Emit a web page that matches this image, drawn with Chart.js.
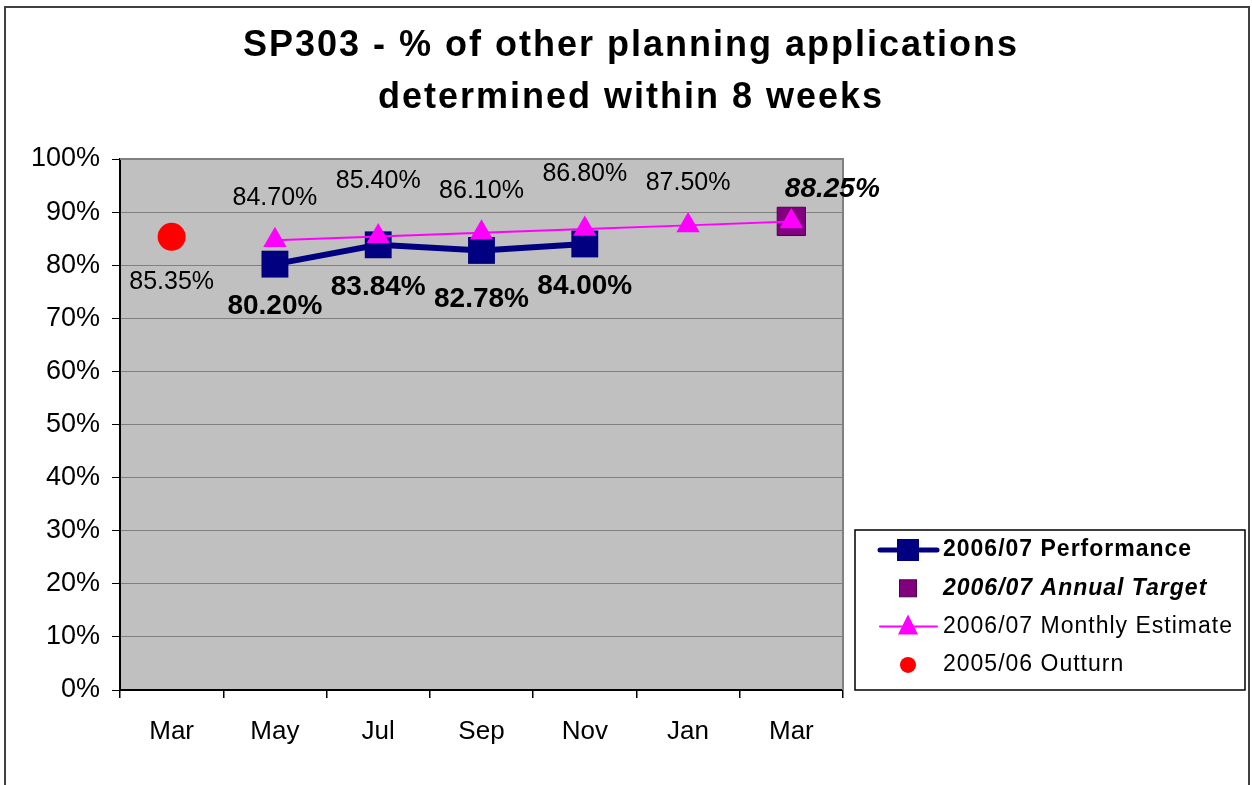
<!DOCTYPE html>
<html>
<head>
<meta charset="utf-8">
<script src="https://cdn.jsdelivr.net/npm/chart.js@4.4.1/dist/chart.umd.min.js"></script>
<style>
  html, body { margin: 0; padding: 0; background: #fff; }
  #wrap { width: 1252px; height: 785px; }
</style>
</head>
<body>
<div id="wrap"><canvas id="sp303Chart" width="1252" height="785"></canvas></div>
<script>
// Chart data
const months = ['Mar', 'May', 'Jul', 'Sep', 'Nov', 'Jan', 'Mar'];
const performance = [null, 80.20, 83.84, 82.78, 84.00, null, null];
const annualTarget = [null, null, null, null, null, null, 88.25];
const monthlyEstimate = [null, 84.70, 85.40, 86.10, 86.80, 87.50, 88.25];
const outturn = [85.35, null, null, null, null, null, null];
const yTicks = [0, 10, 20, 30, 40, 50, 60, 70, 80, 90, 100];

const FONT = '"Liberation Sans", Arial, sans-serif';

// Frame, plot background, title
const backdrop = {
    id: 'backdrop',
    beforeDraw(chart) {
        const { ctx, chartArea: a } = chart;
        ctx.save();
        ctx.fillStyle = '#fff';
        ctx.fillRect(0, 0, chart.width, chart.height);
        ctx.strokeStyle = '#404040';
        ctx.lineWidth = 2;
        ctx.strokeRect(5, 7, 1244, 800);
        ctx.fillStyle = '#c0c0c0';
        ctx.fillRect(a.left, a.top, a.right - a.left, a.bottom - a.top);
        ctx.fillStyle = '#000';
        ctx.font = 'bold 36px ' + FONT;
        ctx.letterSpacing = '2px';
        ctx.textAlign = 'center';
        ctx.textBaseline = 'middle';
        ctx.fillText('SP303 - % of other planning applications', 631, 46);
        ctx.fillText('determined within 8 weeks', 631, 98);
        ctx.restore();
    },
    beforeDatasetsDraw(chart) {
        const { ctx, chartArea: a } = chart;
        ctx.save();
        ctx.strokeStyle = '#808080';
        ctx.lineWidth = 2;
        ctx.beginPath();
        ctx.moveTo(a.left, a.top);
        ctx.lineTo(a.right, a.top);
        ctx.lineTo(a.right, a.bottom);
        ctx.stroke();
        ctx.restore();
    }
};

// Value labels next to the points
const valueLabels = {
    id: 'valueLabels',
    afterDatasetsDraw(chart) {
        const { ctx } = chart;
        ctx.save();
        ctx.fillStyle = '#000';
        ctx.textAlign = 'center';
        ctx.textBaseline = 'middle';
        chart.data.datasets.forEach((ds, di) => {
            const meta = chart.getDatasetMeta(di);
            meta.data.forEach((pt, i) => {
                const v = ds.data[i];
                if (v == null) return;
                let dx = 0, dy = 0;
                if (ds.labelMode === 'estimate') {
                    if (i === ds.data.length - 1) return;
                    ctx.font = '25px ' + FONT;
                    dy = i % 2 ? -42 : -55;
                } else if (ds.labelMode === 'performance') {
                    ctx.font = 'bold 28px ' + FONT;
                    dy = i === 3 ? 49 : 42;
                } else if (ds.labelMode === 'target') {
                    ctx.font = 'italic bold 28px ' + FONT;
                    dx = 41; dy = -32;
                } else {
                    ctx.font = '25px ' + FONT;
                    dy = 45;
                }
                ctx.fillText(v.toFixed(2) + '%', pt.x + dx, pt.y + dy);
            });
        });
        ctx.restore();
    }
};

// Legend box
const legendBox = {
    id: 'legendBox',
    afterDraw(chart) {
        const { ctx } = chart;
        const x = 855, y = 530, w = 390, h = 160;
        ctx.save();
        ctx.fillStyle = '#fff';
        ctx.fillRect(x, y, w, h);
        ctx.strokeStyle = '#000';
        ctx.lineWidth = 1.5;
        ctx.strokeRect(x, y, w, h);
        const rows = [
            { text: '2006/07 Performance', font: 'bold 23px ', line: '#000080', lw: 5, mark: 'rect', color: '#000080', size: 22 },
            { text: '2006/07 Annual Target', font: 'italic bold 23px ', line: null, mark: 'rect', color: '#800080', size: 17 },
            { text: '2006/07 Monthly Estimate', font: '23px ', line: '#ff00ff', lw: 2, mark: 'tri', color: '#ff00ff', size: 20 },
            { text: '2005/06 Outturn', font: '23px ', line: null, mark: 'circle', color: '#ff0000', size: 16 }
        ];
        rows.forEach((r, k) => {
            const cy = y + 20 + k * 38.3;
            const cx = 908;
            if (r.line) {
                ctx.strokeStyle = r.line;
                ctx.lineWidth = r.lw;
                ctx.lineCap = 'round';
                ctx.beginPath();
                ctx.moveTo(880, cy);
                ctx.lineTo(937, cy);
                ctx.stroke();
            }
            ctx.fillStyle = r.color;
            const s = r.size;
            if (r.mark === 'rect') {
                ctx.fillRect(cx - s / 2, cy - s / 2, s, s);
                if (r.color === '#800080') {
                    ctx.strokeStyle = '#4b004b';
                    ctx.lineWidth = 1;
                    ctx.strokeRect(cx - s / 2, cy - s / 2, s, s);
                }
            } else if (r.mark === 'tri') {
                ctx.beginPath();
                ctx.moveTo(cx, cy - s / 2 - 2);
                ctx.lineTo(cx + s / 2, cy + s / 2 - 2);
                ctx.lineTo(cx - s / 2, cy + s / 2 - 2);
                ctx.closePath();
                ctx.fill();
            } else {
                ctx.beginPath();
                ctx.arc(cx, cy, s / 2, 0, Math.PI * 2);
                ctx.fill();
            }
            ctx.fillStyle = '#000';
            ctx.font = r.font + FONT;
            ctx.letterSpacing = '1px';
            ctx.textAlign = 'left';
            ctx.textBaseline = 'middle';
            ctx.fillText(r.text, 943, cy);
            ctx.letterSpacing = '0px';
        });
        ctx.restore();
    }
};

new Chart(document.getElementById('sp303Chart').getContext('2d'), {
    type: 'line',
    data: {
        labels: months,
        datasets: [
            {
                label: '2006/07 Monthly Estimate',
                data: monthlyEstimate,
                borderColor: '#ff00ff',
                backgroundColor: '#ff00ff',
                borderWidth: 2,
                pointStyle: 'triangle',
                pointRadius: 13.5,
                pointBorderWidth: 0,
                labelMode: 'estimate',
                order: 0
            },
            {
                label: '2006/07 Performance',
                data: performance,
                borderColor: '#000080',
                backgroundColor: '#000080',
                borderWidth: 6,
                pointStyle: 'rect',
                pointRadius: 19,
                pointBorderWidth: 0,
                labelMode: 'performance',
                order: 1
            },
            {
                label: '2006/07 Annual Target',
                data: annualTarget,
                showLine: false,
                borderColor: '#4b004b',
                backgroundColor: '#800080',
                pointStyle: 'rect',
                pointRadius: 20,
                pointBorderWidth: 1,
                labelMode: 'target',
                order: 2
            },
            {
                label: '2005/06 Outturn',
                data: outturn,
                showLine: false,
                borderColor: '#ff0000',
                backgroundColor: '#ff0000',
                pointStyle: 'circle',
                pointRadius: 14,
                pointBorderWidth: 0,
                labelMode: 'outturn',
                order: 3
            }
        ]
    },
    options: {
        responsive: false,
        animation: false,
        layout: { padding: { top: 159, right: 409, left: 0, bottom: 0 } },
        plugins: {
            legend: { display: false },
            title: { display: false },
            tooltip: { enabled: false }
        },
        scales: {
            x: {
                offset: true,
                grid: { offset: true, drawOnChartArea: false, tickLength: 8, color: '#000', lineWidth: 1.5 },
                border: { color: '#000', width: 2 },
                ticks: { color: '#000', font: { family: FONT, size: 26 }, padding: 18, autoSkip: false, maxRotation: 0 },
                afterFit: s => { s.height = 95; }
            },
            y: {
                min: 0,
                max: 100,
                afterBuildTicks: s => { s.ticks = yTicks.map(v => ({ value: v })); },
                grid: { color: '#808080', lineWidth: 1, tickLength: 8, tickColor: '#000' },
                border: { color: '#000', width: 2 },
                ticks: { color: '#000', font: { family: FONT, size: 27 }, padding: 12, callback: v => v + '%' },
                afterFit: s => { s.width = 120; }
            }
        }
    },
    plugins: [backdrop, valueLabels, legendBox]
});
</script>
</body>
</html>
